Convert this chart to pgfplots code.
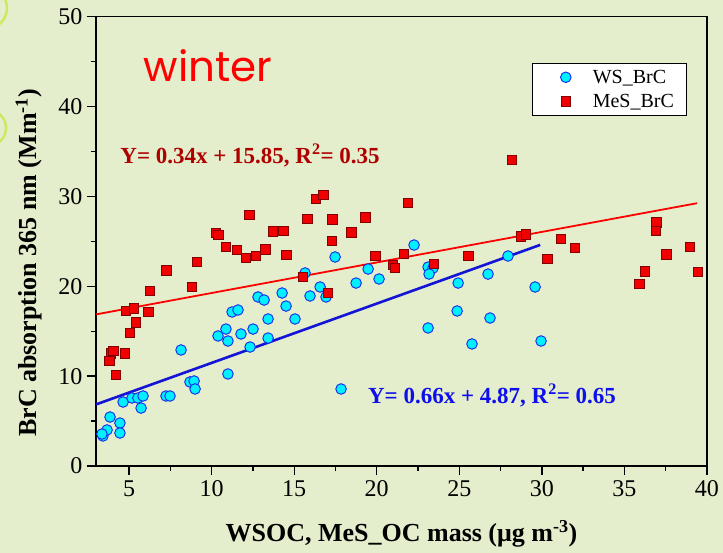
\documentclass[border=0pt]{standalone}
\usepackage{pgfplots}
\pgfplotsset{compat=1.18}
\usepackage{fontspec}
\setmainfont{Liberation Serif}
\newfontfamily\seasonfont{Poppins}

\definecolor{slidebg}{RGB}{228,237,204}
\definecolor{ringgreen}{RGB}{208,232,96}
\definecolor{wsfill}{RGB}{0,240,255}
\definecolor{wsedge}{RGB}{20,40,235}
\definecolor{mesfill}{RGB}{240,0,0}
\definecolor{mesedge}{RGB}{130,0,0}
\definecolor{eqred}{RGB}{175,0,0}
\definecolor{eqblue}{RGB}{15,15,235}
\definecolor{fitblue}{RGB}{20,20,215}

% WSOC vs WS_BrC absorption
\pgfplotstableread{
x y
3.42 3.34
3.67 4.01
3.36 3.56
4.45 4.78
4.45 3.67
3.85 5.45
4.64 7.12
5.18 7.57
5.54 7.57
5.85 7.79
5.73 6.45
7.24 7.79
7.48 7.79
8.15 12.91
8.69 9.35
8.94 9.46
9.00 8.57
10.39 14.47
10.87 15.24
10.99 13.91
11.78 14.69
12.51 15.24
13.42 14.24
13.42 16.36
10.99 10.24
11.24 17.14
11.60 17.36
12.81 18.81
13.18 18.47
14.27 19.25
14.51 17.80
15.05 16.36
15.66 21.48
15.96 18.92
16.57 19.92
16.93 18.81
17.48 23.26
18.75 20.36
19.48 21.92
20.14 20.81
22.26 24.59
23.11 22.14
23.41 22.03
23.17 21.36
24.93 20.36
26.74 21.36
24.87 17.25
26.86 16.47
23.11 15.36
25.77 13.58
29.95 13.91
17.84 8.57
27.95 23.37
29.59 19.92
12.33 13.24
}\wsdata

% MeS_OC vs MeS_BrC absorption
\pgfplotstableread{
x y
3.89 12.54
4.05 12.83
3.81 11.68
4.76 12.54
4.21 10.13
5.06 14.83
5.42 15.99
4.82 17.25
5.30 17.55
6.17 17.17
6.27 19.51
7.26 21.78
8.80 19.95
9.10 22.73
10.27 25.96
10.41 25.74
10.86 24.37
11.54 24.07
12.07 23.14
12.67 23.40
13.25 24.11
12.29 27.93
13.72 26.12
14.34 26.15
14.53 23.48
15.52 21.06
15.80 27.48
16.33 29.71
16.77 30.15
17.31 27.45
17.28 25.07
18.46 26.00
19.31 27.67
21.90 29.30
19.92 23.37
21.66 23.59
20.97 22.37
21.11 22.07
23.47 22.51
25.55 23.37
17.03 19.28
28.20 34.05
28.72 25.56
29.04 25.78
31.17 25.26
32.01 24.26
30.33 23.03
36.94 27.12
36.90 26.18
37.53 23.56
38.96 24.40
36.23 21.66
35.91 20.29
39.44 21.62
}\mesdata

\begin{document}
\begin{tikzpicture}
\path[use as bounding box, fill=slidebg] (-96pt,-87pt) rectangle (627pt,466pt);
\begin{scope}
\clip (-96pt,-87pt) rectangle (627pt,466pt);
\draw[ringgreen, line width=2.5pt] (-110pt,458pt) circle (21pt);
\draw[ringgreen, line width=2.5pt] (-108pt,338pt) circle (18pt);
\end{scope}
\begin{axis}[
  at={(0pt,0pt)}, anchor=south west,
  scale only axis,
  width=611pt, height=449.3pt,
  xmin=3, xmax=40, ymin=0, ymax=50,
  xtick={5,10,...,40}, ytick={0,10,...,50},
  minor x tick num=1, minor y tick num=1,
  tick pos=left, tick align=outside,
  major tick length=9pt, minor tick length=5pt,
  every tick/.style={black, line width=1.3pt},
  axis line style={line width=1.6pt},
  /pgf/number format/assume math mode=true,
  ticklabel style={font=\fontsize{24}{26}\selectfont},
  xticklabel style={yshift=-2pt},
  yticklabel style={xshift=-1pt},
  xlabel={\bfseries WSOC, MeS\_OC mass (μg m\textsuperscript{-3})},
  ylabel={\bfseries BrC absorption 365 nm (Mm\textsuperscript{-1})},
  label style={font=\fontsize{26}{28}\selectfont},
  xlabel style={at={(axis description cs:0.5,0)}, anchor=center, yshift=-68pt},
  ylabel style={at={(axis description cs:-0.110,0.452)}, anchor=center},
  legend style={at={(axis description cs:0.966,0.897)}, anchor=north east,
    draw=black, line width=0.6pt, fill=white,
    font=\fontsize{20}{22}\selectfont,
    inner xsep=0pt, inner ysep=2pt, row sep=0pt, column sep=0pt,
    nodes={inner sep=3pt, draw=none}},
  legend image code/.code={%
    \path[draw=none, fill=none] (0pt,-12pt) rectangle (58pt,12pt);
    \draw[#1] plot coordinates {(34pt,0pt)};},
  legend cell align=left,
  clip=false,
]
% least-squares fits
\addplot[red, line width=1.8pt, forget plot] coordinates {(3,16.87) (39.4,29.246)};
\addplot[fitblue, line width=2.6pt, forget plot] coordinates {(3,6.85) (29.9,24.604)};
% measurements
\addplot[only marks, mark=*, mark size=5.3pt,
  mark options={fill=wsfill, draw=wsedge, line width=0.9pt}] table {\wsdata};
\addlegendentry{WS\_BrC\hspace*{9pt}}
\addplot[only marks, mark=square*, mark size=4.7pt,
  mark options={fill=mesfill, draw=mesedge, line width=0.8pt}] table {\mesdata};
\addlegendentry{MeS\_BrC\hspace*{9pt}}
% annotations
\node[text=red, font=\seasonfont\fontsize{42}{46}\selectfont] at (axis cs:9.78,44.5) {winter};
\node[text=eqred, font=\bfseries\fontsize{23}{25}\selectfont] at (axis cs:12.33,34.6)
  {Y= 0.34x + 15.85, R\textsuperscript{2}= 0.35};
\node[text=eqblue, font=\bfseries\fontsize{23}{25}\selectfont] at (axis cs:26.98,7.9)
  {Y= 0.66x + 4.87, R\textsuperscript{2}= 0.65};
\end{axis}
\end{tikzpicture}
\end{document}
